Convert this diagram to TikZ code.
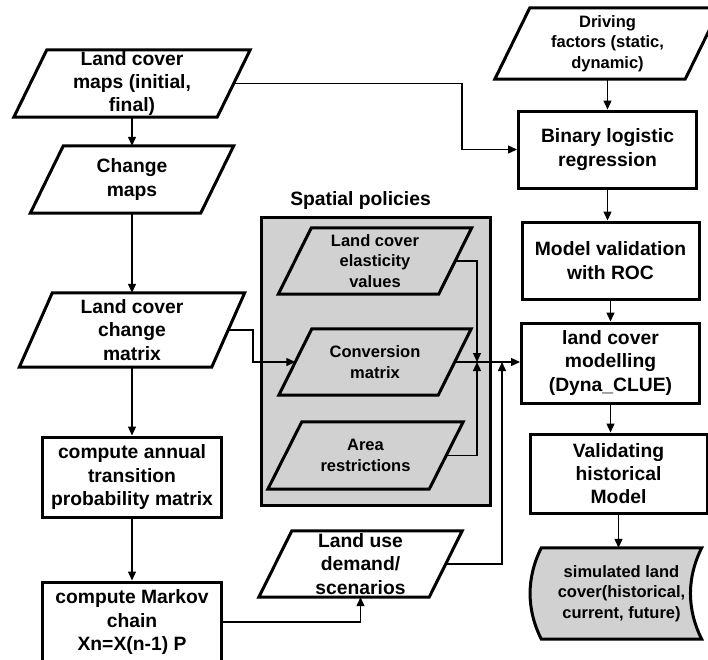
\documentclass[tikz,border=0pt]{standalone}
\usepackage{fontspec}
\setmainfont{Liberation Sans}
\usepackage{tikz}
\usetikzlibrary{arrows.meta}
\usetikzlibrary{positioning}
\usetikzlibrary{backgrounds}
\definecolor{polgray}{gray}{0.82}
\newcommand{\bigtxt}{\fontsize{19.3}{23.2}\selectfont\bfseries}
\newcommand{\smalltxt}{\fontsize{16.5}{20.5}\selectfont\bfseries}
\tikzstyle{every node}+=[inner sep=0pt]
\tikzstyle{block} = [rectangle, draw, line width=3pt, font=\bigtxt, text centered, align=center]
\tikzstyle{data} = [rectangle, font=\bigtxt, align=center]
\tikzstyle{slanted} = [draw, line width=3pt, line join=miter]
\tikzstyle{line} = [draw, line width=1.3pt, -{Triangle[length=9pt,width=8pt]}]

\begin{document}
\begin{tikzpicture}[x=1pt, y=-1pt]
            \useasboundingbox (0,0) rectangle (708,659);
            % Place nodes: left column
            \node [data, minimum width=203pt, minimum height=67pt] (lcmaps) at (132,83.5) {Land cover\\maps (initial,\\final)};
            \node [data, below of=lcmaps, node distance=96pt, minimum width=170pt, minimum height=67pt] (chmaps) {Change\\maps};
            \node [data, below of=chmaps, node distance=150.5pt, minimum width=192pt, minimum height=74pt] (lcmatrix) {Land cover\\change\\matrix};
            \node [block, below of=lcmatrix, node distance=147pt, minimum width=179pt, minimum height=80pt] (annual) {compute annual\\transition\\probability matrix};
            \node [block, below of=annual, node distance=145pt, minimum width=179pt, minimum height=80pt] (markov) {compute Markov\\chain\\Xn=X(n-1) P};
            % Spatial policies
            \begin{scope}[on background layer]
            \node [rectangle, draw, fill=polgray, line width=3pt, minimum width=229pt, minimum height=288pt] (pol) at (375.5,361) {};
            \end{scope}
            \node [font=\bigtxt, above of=pol, node distance=160pt, xshift=-15pt] (poltitle) {Spatial policies};
            \node [data, font=\smalltxt, minimum width=159pt, minimum height=66pt] (conv) at (375,362) {Conversion\\matrix};
            \node [data, font=\smalltxt, above of=conv, node distance=101pt, minimum width=160pt, minimum height=66pt] (elast) {Land cover\\elasticity\\values};
            \node [data, font=\smalltxt, below of=conv, node distance=93.5pt, xshift=-9.5pt, minimum width=161pt, minimum height=67pt] (area) {Area\\restrictions};
            \node [data, minimum width=170pt, minimum height=66pt] (landuse) at (360.5,564) {Land use\\demand/\\scenarios};
            % Right column
            \node [data, font=\smalltxt, minimum width=190pt, minimum height=71pt] (drv) at (607.5,43.5) {Driving\\factors (static,\\dynamic)};
            \node [block, below of=drv, node distance=106pt, minimum width=178pt, minimum height=77pt] (bin) {Binary logistic\\regression};
            \node [block, below of=bin, node distance=111pt, xshift=3pt, minimum width=177pt, minimum height=77pt] (roc) {Model validation\\with ROC};
            \node [block, below of=roc, node distance=102.5pt, minimum width=178pt, minimum height=80pt] (lcm) {land cover\\modelling\\(Dyna\_CLUE)};
            \node [block, below of=lcm, node distance=110.5pt, xshift=8pt, minimum width=177pt, minimum height=79pt] (valid) {Validating\\historical\\Model};
            \node [data, font=\smalltxt, below of=valid, node distance=120pt, xshift=3pt, minimum width=160pt, minimum height=91pt] (sim) {simulated land\\cover(historical,\\current, future)};
            % Outlines behind the texts
            \begin{scope}[on background layer]
            \foreach \n/\s/\c in {lcmaps/33/white, chmaps/33/white, lcmatrix/33/white, landuse/33/white, drv/35/white, elast/33/polgray, conv/33/polgray, area/34/polgray}
                \path [slanted, fill=\c] ([xshift=-\s pt/2]\n.south west) -- ([xshift=\s pt/2]\n.north west)
                    -- ([xshift=\s pt/2]\n.north east) -- ([xshift=-\s pt/2]\n.south east) -- cycle;
            \path [slanted, fill=polgray] (sim.north west) -- (sim.north east)
                .. controls +(-15pt,-30pt) and +(-15pt,30pt) .. (sim.south east) -- (sim.south west)
                .. controls +(-15pt,30pt) and +(-15pt,-30pt) .. cycle;
            \end{scope}
            % Joints
            \coordinate (k1) at (462,120);
            \coordinate (k2) at (253,345);
            \coordinate (j1) at (477,362);
            \coordinate (j2) at (502,362);
            % Draw edges
            \path [line] (lcmaps) -- (chmaps);
            \path [line] (chmaps) -- (lcmatrix);
            \path [line] (lcmatrix) -- (annual);
            \path [line] (annual) -- (markov);
            \path [line] (drv) -- (bin);
            \path [line] (bin.south) -- (bin.south |- roc.north);
            \path [line] (roc.south) -- (roc.south |- lcm.north);
            \path [line] (lcm.south) -- (lcm.south |- valid.north);
            \path [line] (valid.south) -- (valid.south |- sim.north);
            \path [line] (lcmaps.east) -| (k1) |- (bin.west);
            \path [line] (lcmatrix.east) -| (k2) |- (conv.west);
            \path [line] (elast.east) -| (j1);
            \path [line] (area.east) -| (j1);
            \path [line] (conv.east) -- (conv.east -| lcm.west);
            \path [line] (landuse.east) -| (j2);
            \path [line] (markov.east) -| (landuse.south);
\end{tikzpicture}
\end{document}
